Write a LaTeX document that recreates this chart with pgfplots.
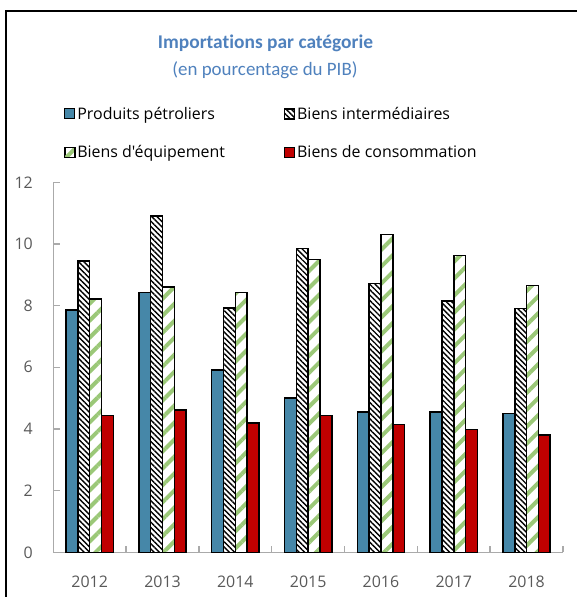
\documentclass[border=0pt]{standalone}
\usepackage{pgfplots}
\pgfplotsset{compat=1.18}
\usepackage{fontspec}
\setmainfont{Open Sans}[Ligatures=TeXOff]
\newfontfamily\carlito{Carlito}[Ligatures={NoCommon}]
\usetikzlibrary{patterns.meta}
\definecolor{pblue}{RGB}{70,135,168}
\definecolor{pred}{RGB}{192,0,0}
\definecolor{pgreen}{RGB}{155,200,120}
\definecolor{titleblue}{RGB}{79,129,189}
\definecolor{axisgray}{RGB}{170,170,170}
\definecolor{labgray}{RGB}{89,89,89}
\pgfplotsset{sqleg/.style={legend image code/.code={\draw[##1,line width=1.2bp] (0bp,-5bp) rectangle (10bp,5bp);}}}
\begin{document}
\begin{tikzpicture}
\useasboundingbox (0bp,0bp) rectangle (577bp,597bp);
\draw[line width=2bp] (6bp,0bp) -- (6bp,586bp) -- (577bp,586bp);
\node[font=\carlito\bfseries\fontsize{19.5}{22}\selectfont, text=titleblue] at (265.5bp,554bp) {Importations par catégorie};
\node[font=\carlito\fontsize{19}{22}\selectfont, text=titleblue] at (265bp,527bp) {(en pourcentage du PIB)};
\begin{axis}[
  scale only axis, width=509.7bp, height=370bp,
  at={(53.3bp,44.7bp)}, anchor=south west,
  xmin=-0.5, xmax=6.5, ymin=0, ymax=12,
  enlarge x limits=false, enlarge y limits=false,
  ybar=0pt, bar width=11.8bp,
  axis x line*=bottom, axis y line*=left,
  axis line style={draw=axisgray, line width=1.4bp, -},
  xtick={-0.5,0.5,...,6.5},
  x tick label as interval,
  xticklabels={2012,2013,2014,2015,2016,2017,2018},
  ytick={0,2,...,12},
  xtick align=inside, ytick align=inside,
  major tick length=6.5bp,
  xtick style={draw=axisgray, line width=1.4bp},
  ytick style={draw=axisgray, line width=1.4bp},
  /pgf/number format/assume math mode=true,
  ticklabel style={font=\fontsize{16}{19}\selectfont, text=labgray},
  yticklabel style={xshift=-17bp},
  xticklabel style={yshift=-20bp},
  legend columns=2, legend cell align=left,
  legend style={draw=none, fill=none, at={(axis description cs:0.0151,1.215)}, anchor=north west,
    font=\fontsize{16}{19}\selectfont, text=black, row sep=21bp,
    /tikz/every even column/.append style={column sep=57bp}},
]
\addplot[sqleg, fill=pblue, draw=black, line width=1.5bp] coordinates {(0,7.86) (1,8.42) (2,5.92) (3,5.00) (4,4.55) (5,4.55) (6,4.50)};
\addplot[sqleg, preaction={fill=white}, pattern={Lines[angle=-45,distance=3.8bp,line width=1.4bp]}, pattern color=black, draw=black, line width=1.5bp] coordinates {(0,9.45) (1,10.91) (2,7.92) (3,9.85) (4,8.71) (5,8.15) (6,7.91)};
\addplot[sqleg, preaction={fill=white}, pattern={Lines[angle=45,distance=12bp,line width=4bp]}, pattern color=pgreen, draw=black, line width=1.5bp] coordinates {(0,8.21) (1,8.60) (2,8.42) (3,9.50) (4,10.31) (5,9.62) (6,8.65)};
\addplot[sqleg, fill=pred, draw=black, line width=1.5bp] coordinates {(0,4.44) (1,4.61) (2,4.20) (3,4.43) (4,4.15) (5,3.98) (6,3.80)};
\legend{Produits pétroliers, Biens intermédiaires, Biens d'équipement, Biens de consommation}
\end{axis}
\end{tikzpicture}
\end{document}
